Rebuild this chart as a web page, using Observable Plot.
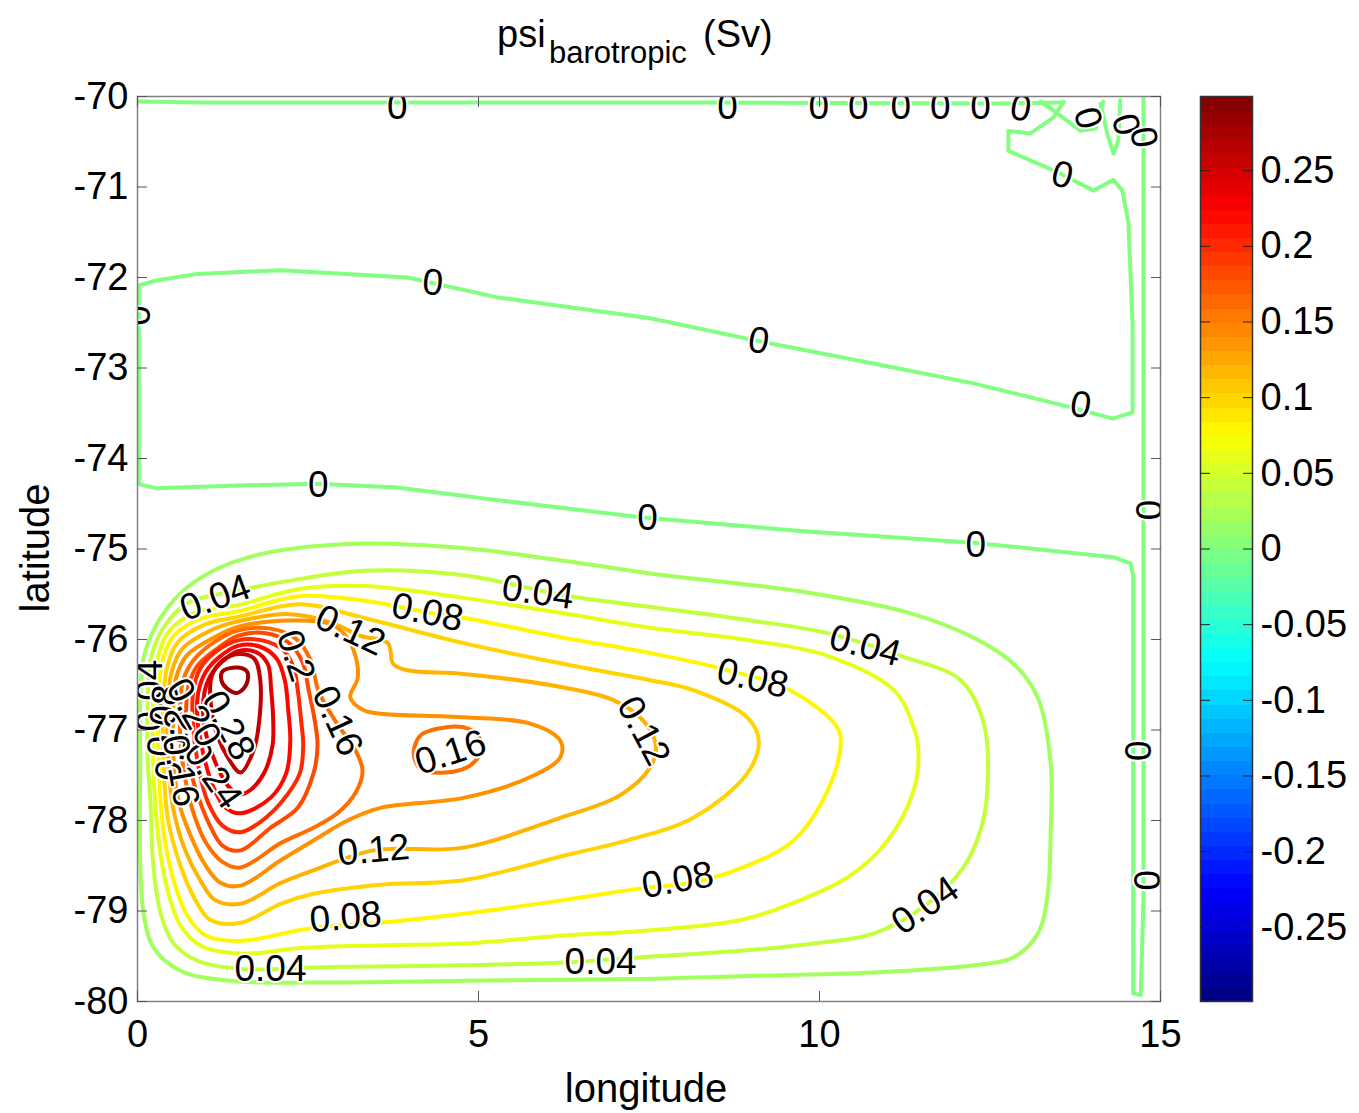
<!DOCTYPE html>
<html>
<head>
<meta charset="utf-8">
<script src="https://cdn.jsdelivr.net/npm/d3@7"></script>
<script src="https://cdn.jsdelivr.net/npm/@observablehq/plot@0.6"></script>
<style>
  body { margin: 0; background: #fff; font-family: "Liberation Sans", Arial, sans-serif; }
  #wrap { position: relative; width: 1359px; height: 1113px; overflow: hidden; background: #fff; }
  #main { position: absolute; left: 0; top: 0; }
  #cbar { position: absolute; left: 1190px; top: 0; }
  .t { position: absolute; line-height: 1; white-space: nowrap; color: #000; }
</style>
</head>
<body>
<div id="wrap">
  <div id="main"></div>
  <div id="cbar"></div>
  <span class="t" style="left:497px;top:15px;font-size:38px">psi</span>
  <span class="t" style="left:549px;top:37px;font-size:31px">barotropic</span>
  <span class="t" style="left:703px;top:15px;font-size:38px">(Sv)</span>
  <div class="t" style="left:0;top:1068px;width:1292px;text-align:center;font-size:40px">longitude</div>
  <div class="t" style="left:-115px;top:528px;width:300px;height:40px;line-height:40px;text-align:center;font-size:40px;transform:rotate(-90deg)">latitude</div>
</div>
<script>
// ---------- data (lon, lat) ----------
const xTicks = [0, 5, 10, 15];
const yTicks = [-80, -79, -78, -77, -76, -75, -74, -73, -72, -71, -70];
const cbTicks = [-0.25, -0.2, -0.15, -0.1, -0.05, 0, 0.05, 0.1, 0.15, 0.2, 0.25];
const cmax = 0.299;

// positive contours (closed loops)
const c02 = [[0.04,-77.34],[0.04,-76.67],[0.09,-76.20],[0.29,-75.82],[0.63,-75.49],[1.11,-75.24],[1.85,-75.05],[3.31,-74.94],[4.78,-74.99],[6.25,-75.13],[7.52,-75.27],[9.82,-75.48],[11.29,-75.70],[12.26,-75.98],[12.85,-76.27],[13.20,-76.64],[13.39,-77.37],[13.39,-78.11],[13.34,-78.85],[13.20,-79.25],[12.85,-79.51],[12.26,-79.60],[10.79,-79.68],[8.84,-79.72],[7.38,-79.75],[4.78,-79.77],[2.83,-79.79],[1.36,-79.77],[0.63,-79.66],[0.23,-79.40],[0.09,-79.03],[0.04,-78.48]];
const c04 = [[0.15,-77.34],[0.15,-76.67],[0.19,-76.23],[0.38,-75.87],[0.73,-75.60],[1.47,-75.46],[2.39,-75.33],[3.31,-75.24],[4.78,-75.29],[6.25,-75.51],[7.52,-75.64],[8.99,-75.79],[10.12,-75.93],[11.19,-76.18],[12.07,-76.45],[12.41,-76.93],[12.46,-77.67],[12.36,-78.11],[12.10,-78.53],[11.55,-78.94],[10.79,-79.25],[10.01,-79.35],[8.84,-79.44],[7.38,-79.51],[6.25,-79.57],[4.78,-79.60],[2.83,-79.62],[1.51,-79.64],[0.88,-79.55],[0.53,-79.36],[0.34,-79.03],[0.23,-78.48],[0.19,-77.78]];
const c06 = [[0.23,-77.34],[0.23,-76.67],[0.28,-76.25],[0.45,-75.92],[0.85,-75.70],[1.47,-75.62],[2.39,-75.44],[3.31,-75.41],[4.78,-75.54],[6.25,-75.71],[7.52,-75.87],[8.99,-76.01],[10.12,-76.18],[11.09,-76.56],[11.38,-76.97],[11.45,-77.23],[11.38,-77.67],[11.00,-78.22],[10.45,-78.61],[9.72,-78.88],[8.84,-79.10],[7.38,-79.22],[6.25,-79.27],[4.78,-79.36],[3.56,-79.38],[2.39,-79.41],[1.51,-79.47],[0.92,-79.38],[0.63,-79.16],[0.44,-78.77],[0.31,-78.22]];
const c08 = [[0.31,-77.34],[0.31,-76.67],[0.35,-76.29],[0.51,-75.98],[0.92,-75.77],[1.47,-75.69],[2.39,-75.52],[3.31,-75.57],[4.25,-75.70],[4.78,-75.76],[6.25,-75.98],[7.52,-76.15],[8.55,-76.32],[9.57,-76.56],[10.26,-76.97],[10.31,-77.17],[10.12,-77.67],[9.62,-78.22],[8.84,-78.53],[8.11,-78.69],[7.38,-78.75],[6.25,-78.88],[4.78,-79.03],[3.56,-79.13],[2.54,-79.19],[1.51,-79.33],[1.00,-79.27],[0.73,-79.05],[0.53,-78.66],[0.38,-78.11]];
const c10 = [[0.38,-77.34],[0.38,-76.67],[0.43,-76.32],[0.59,-76.03],[1.00,-75.83],[1.47,-75.75],[2.39,-75.61],[3.31,-75.76],[4.78,-76.04],[6.25,-76.27],[7.52,-76.45],[8.15,-76.56],[8.94,-76.86],[9.11,-77.12],[8.94,-77.48],[8.15,-77.97],[7.18,-78.22],[6.25,-78.39],[4.78,-78.66],[3.56,-78.71],[2.58,-78.81],[2.10,-78.92],[1.51,-79.13],[1.07,-79.10],[0.85,-78.88],[0.63,-78.50],[0.45,-78.00]];
const c12 = [[0.45,-77.34],[0.45,-76.67],[0.50,-76.36],[0.66,-76.10],[1.07,-75.90],[1.47,-75.80],[2.24,-75.72],[2.83,-75.81],[3.27,-75.96],[3.67,-76.04],[3.75,-76.27],[3.96,-76.34],[4.78,-76.38],[6.25,-76.53],[6.98,-76.67],[7.42,-76.90],[7.60,-77.17],[7.52,-77.41],[7.08,-77.72],[6.20,-77.97],[4.78,-78.30],[3.46,-78.33],[2.58,-78.55],[2.10,-78.69],[1.51,-78.92],[1.14,-78.88],[0.92,-78.66],[0.70,-78.33],[0.53,-77.89]];
const c14 = [[0.53,-77.34],[0.53,-76.67],[0.57,-76.41],[0.73,-76.17],[1.14,-75.97],[1.47,-75.86],[2.24,-75.79],[2.79,-75.82],[3.02,-75.93],[3.17,-76.12],[3.23,-76.42],[3.12,-76.64],[3.31,-76.78],[3.56,-76.82],[4.78,-76.86],[5.76,-76.93],[6.20,-77.12],[6.20,-77.30],[5.76,-77.52],[4.78,-77.75],[3.56,-77.86],[3.08,-78.00],[2.58,-78.22],[2.10,-78.44],[1.51,-78.72],[1.22,-78.69],[1.00,-78.50],[0.78,-78.17],[0.60,-77.78]];
const c16a = [[0.63,-77.12],[0.63,-76.67],[0.67,-76.45],[0.82,-76.23],[1.14,-76.02],[1.47,-75.90],[1.95,-75.88],[2.32,-75.99],[2.54,-76.23],[2.65,-76.56],[2.90,-76.90],[3.20,-77.23],[3.30,-77.45],[3.20,-77.69],[2.93,-77.92],[2.58,-78.08],[2.10,-78.25],[1.51,-78.52],[1.25,-78.46],[1.00,-78.24],[0.81,-77.89],[0.69,-77.50]];
const c16b = [[4.05,-77.25],[4.15,-77.06],[4.44,-76.98],[4.78,-76.97],[4.96,-77.04],[5.06,-77.20],[4.88,-77.39],[4.52,-77.47],[4.15,-77.43]];
const c18 = [[0.72,-77.12],[0.72,-76.67],[0.76,-76.48],[0.89,-76.28],[1.17,-76.10],[1.47,-75.96],[1.88,-75.93],[2.21,-76.03],[2.42,-76.25],[2.51,-76.56],[2.60,-76.90],[2.64,-77.17],[2.58,-77.48],[2.35,-77.86],[1.95,-78.08],[1.51,-78.33],[1.25,-78.28],[1.04,-78.02],[0.87,-77.69],[0.76,-77.39]];
const c20 = [[0.81,-76.90],[0.82,-76.56],[0.92,-76.32],[1.14,-76.14],[1.47,-76.01],[1.83,-76.01],[2.14,-76.12],[2.29,-76.31],[2.35,-76.56],[2.40,-76.90],[2.43,-77.17],[2.38,-77.48],[2.13,-77.78],[1.83,-78.00],[1.51,-78.13],[1.25,-78.06],[1.04,-77.81],[0.91,-77.47]];
const c22 = [[0.88,-76.90],[0.89,-76.59],[1.00,-76.36],[1.19,-76.20],[1.47,-76.07],[1.80,-76.08],[2.04,-76.21],[2.16,-76.45],[2.21,-76.78],[2.24,-77.12],[2.18,-77.48],[1.95,-77.75],[1.51,-77.92],[1.28,-77.85],[1.10,-77.61],[0.97,-77.28]];
const c24 = [[0.97,-76.90],[0.98,-76.59],[1.07,-76.40],[1.25,-76.24],[1.47,-76.13],[1.74,-76.14],[1.91,-76.27],[1.96,-76.56],[1.99,-76.90],[1.98,-77.17],[1.86,-77.47],[1.66,-77.66],[1.51,-77.71],[1.33,-77.62],[1.16,-77.39],[1.04,-77.14]];
const c26 = [[1.07,-76.67],[1.09,-76.40],[1.25,-76.23],[1.48,-76.16],[1.71,-76.21],[1.80,-76.45],[1.78,-76.93],[1.70,-77.23],[1.51,-77.47],[1.33,-77.31],[1.17,-77.06]];
const c28 = [[1.25,-76.35],[1.48,-76.31],[1.61,-76.36],[1.60,-76.49],[1.47,-76.59],[1.31,-76.54],[1.23,-76.45]];

// zero contours (open lines)
const zTop = [[0,-70.055],[0.92,-70.066],[3.86,-70.066],[8.26,-70.066],[12.65,-70.077],[13.58,-70.066]];
const zMid = [[0,-72.09],[0.29,-72.03],[0.88,-71.96],[2.10,-71.92],[3.96,-72.00],[5.28,-72.22],[7.52,-72.45],[9.09,-72.70],[10.79,-72.95],[12.26,-73.17],[13.72,-73.44],[14.30,-73.56],[14.59,-73.49],[14.59,-72.51],[14.53,-71.40],[14.44,-71.04],[14.31,-70.92],[14.02,-71.04],[13.53,-70.85],[12.77,-70.60],[12.77,-70.38],[13.09,-70.41],[13.43,-70.23],[13.58,-70.06]];
const zLow = [[0,-74.28],[0.29,-74.33],[1.36,-74.30],[2.64,-74.28],[3.81,-74.32],[5.28,-74.46],[7.38,-74.65],[9.72,-74.80],[12.26,-74.93],[14.31,-75.09],[14.56,-75.16],[14.60,-75.29],[14.60,-77.78],[14.60,-79.91],[14.71,-79.93],[14.75,-78.88],[14.75,-70.00]];
const zWest = [[0.02,-72.09],[0.02,-74.28]];
const zCorner1 = [[13.24,-70.055],[13.53,-70.21],[13.83,-70.38],[14.05,-70.35],[14.16,-70.055]];
const zCorner2 = [[14.12,-70.08],[14.22,-70.41],[14.31,-70.63],[14.38,-70.49],[14.41,-70.04]];

const loops = [
  {level: 0.02, pts: c02}, {level: 0.04, pts: c04}, {level: 0.06, pts: c06},
  {level: 0.08, pts: c08}, {level: 0.10, pts: c10}, {level: 0.12, pts: c12},
  {level: 0.14, pts: c14}, {level: 0.16, pts: c16a}, {level: 0.16, pts: c16b},
  {level: 0.18, pts: c18}, {level: 0.20, pts: c20}, {level: 0.22, pts: c22},
  {level: 0.24, pts: c24}, {level: 0.26, pts: c26}, {level: 0.28, pts: c28}
];
const zeros = [zTop, zMid, zLow, zWest, zCorner1, zCorner2];

// contour labels: text, lon, lat, angle
const posLabels = [
  {text: "0.04", lon: 1.14, lat: -75.54, angle: -20},
  {text: "0.12", lon: 3.12, lat: -75.90, angle: 25},
  {text: "0.08", lon: 4.25, lat: -75.70, angle: 12},
  {text: "0.04", lon: 5.87, lat: -75.48, angle: 8},
  {text: "0.04", lon: 10.67, lat: -76.07, angle: 15},
  {text: "0.08", lon: 9.02, lat: -76.43, angle: 13},
  {text: "0.12", lon: 7.42, lat: -77.01, angle: 62},
  {text: "0.16", lon: 4.59, lat: -77.25, angle: -18},
  {text: "0.2", lon: 2.32, lat: -76.18, angle: 72},
  {text: "0.16", lon: 2.93, lat: -76.90, angle: 65},
  {text: "0.28", lon: 1.33, lat: -76.95, angle: 62},
  {text: "0.24", lon: 1.11, lat: -77.50, angle: 55},
  {text: "0.12", lon: 3.46, lat: -78.33, angle: -5},
  {text: "0.08", lon: 3.05, lat: -79.07, angle: -5},
  {text: "0.04", lon: 1.95, lat: -79.64, angle: 0},
  {text: "0.04", lon: 6.79, lat: -79.57, angle: 0},
  {text: "0.08", lon: 7.92, lat: -78.66, angle: -10},
  {text: "0.04", lon: 11.55, lat: -78.94, angle: -35},
  {text: "0.04", lon: 0.19, lat: -76.62, angle: -90},
  {text: "0.08", lon: 0.38, lat: -76.90, angle: -85},
  {text: "0.12", lon: 0.53, lat: -77.17, angle: -80},
  {text: "0.16", lon: 0.63, lat: -77.45, angle: 80},
  {text: "0.20", lon: 0.82, lat: -76.81, angle: 60}
];
const zeroLabels = [
  {lon: 3.81, lat: -70.12, angle: 0}, {lon: 8.65, lat: -70.12, angle: 0},
  {lon: 9.99, lat: -70.12, angle: 0}, {lon: 10.57, lat: -70.12, angle: 0},
  {lon: 11.19, lat: -70.12, angle: 0}, {lon: 11.77, lat: -70.12, angle: 0},
  {lon: 12.36, lat: -70.12, angle: 0}, {lon: 12.95, lat: -70.13, angle: 10},
  {lon: 13.93, lat: -70.24, angle: 75}, {lon: 14.49, lat: -70.31, angle: 75},
  {lon: 14.75, lat: -70.45, angle: 80}, {lon: 13.56, lat: -70.87, angle: 15},
  {lon: 4.33, lat: -72.06, angle: 5}, {lon: 9.11, lat: -72.70, angle: 10},
  {lon: 13.83, lat: -73.41, angle: 10}, {lon: 2.65, lat: -74.29, angle: 0},
  {lon: 7.48, lat: -74.66, angle: 0}, {lon: 12.29, lat: -74.96, angle: 0},
  {lon: 14.81, lat: -74.57, angle: 90}, {lon: 14.66, lat: -77.23, angle: 90},
  {lon: 14.78, lat: -78.66, angle: 90}, {lon: -0.02, lat: -72.42, angle: 90}
];

// ---------- build ----------
function jet(t) {
  const c = v => Math.round(255 * Math.max(0, Math.min(1, v)));
  return `rgb(${c(1.5 - Math.abs(4 * t - 3))},${c(1.5 - Math.abs(4 * t - 2))},${c(1.5 - Math.abs(4 * t - 1))})`;
}
const loopRows = loops.flatMap((c, i) => c.pts.map(([lon, lat]) => ({id: i, level: c.level, lon, lat})));
const zeroRows = zeros.flatMap((pts, i) => pts.map(([lon, lat]) => ({id: i, level: 0, lon, lat})));
const labelRows = posLabels.concat(zeroLabels.map(d => ({text: "0", ...d})));

const font = "Liberation Sans, Arial, sans-serif";
const colorOpts = {type: "linear", domain: [-cmax, cmax], interpolate: jet};

const main = Plot.plot({
  width: 1190, height: 1113,
  marginLeft: 137, marginRight: 30, marginTop: 96, marginBottom: 112,
  x: {domain: [0, 15], label: null},
  y: {domain: [-80, -70], label: null},
  color: colorOpts,
  style: {fontFamily: font, background: "transparent", overflow: "visible"},
  marks: [
    Plot.line(zeroRows, {x: "lon", y: "lat", z: "id", stroke: "level", strokeWidth: 4, curve: "linear", clip: true}),
    Plot.line(loopRows, {x: "lon", y: "lat", z: "id", stroke: "level", strokeWidth: 4, curve: "catmull-rom-closed", clip: true}),
    Plot.text(labelRows, {x: "lon", y: "lat", text: "text", rotate: "angle", fontSize: 37, fill: "black",
      stroke: "white", strokeWidth: 4, paintOrder: "stroke", clip: true}),
    Plot.frame({stroke: "#808080", strokeWidth: 1.5}),
    Plot.axisX({anchor: "bottom", ticks: xTicks, tickSize: -10, tickFormat: () => "", stroke: "#555", label: null}),
    Plot.axisX({anchor: "top", ticks: xTicks, tickSize: -10, tickFormat: () => "", stroke: "#555", label: null}),
    Plot.axisY({anchor: "left", ticks: yTicks, tickSize: -10, tickFormat: () => "", stroke: "#555", label: null}),
    Plot.axisY({anchor: "right", ticks: yTicks, tickSize: -10, tickFormat: () => "", stroke: "#555", label: null}),
    Plot.axisX({anchor: "bottom", ticks: xTicks, tickSize: 0, tickPadding: 19, tickFormat: d => String(d), fontSize: 38, label: null}),
    Plot.axisY({anchor: "left", ticks: yTicks, tickSize: 0, tickPadding: 9, tickFormat: d => String(d), fontSize: 38, label: null})
  ]
});
document.getElementById("main").appendChild(main);

const cbar = Plot.plot({
  width: 169, height: 1113,
  marginLeft: 10, marginRight: 107, marginTop: 96, marginBottom: 112,
  x: {domain: [0, 1], axis: null},
  y: {domain: [-cmax, cmax], label: null},
  color: colorOpts,
  style: {fontFamily: font, background: "transparent", overflow: "visible"},
  marks: [
    Plot.raster({fill: (x, y) => y, x1: 0, x2: 1, y1: -cmax, y2: cmax, width: 1, height: 64, imageRendering: "pixelated"}),
    Plot.frame({stroke: "#333", strokeWidth: 1.5}),
    Plot.axisY({anchor: "left", ticks: cbTicks, tickSize: -10, tickFormat: () => "", stroke: "#222", label: null}),
    Plot.axisY({anchor: "right", ticks: cbTicks, tickSize: -10, tickFormat: () => "", stroke: "#222", label: null}),
    Plot.axisY({anchor: "right", ticks: cbTicks, tickSize: 0, tickPadding: 8, tickFormat: d => String(d), fontSize: 38, label: null})
  ]
});
document.getElementById("cbar").appendChild(cbar);
</script>
</body>
</html>
